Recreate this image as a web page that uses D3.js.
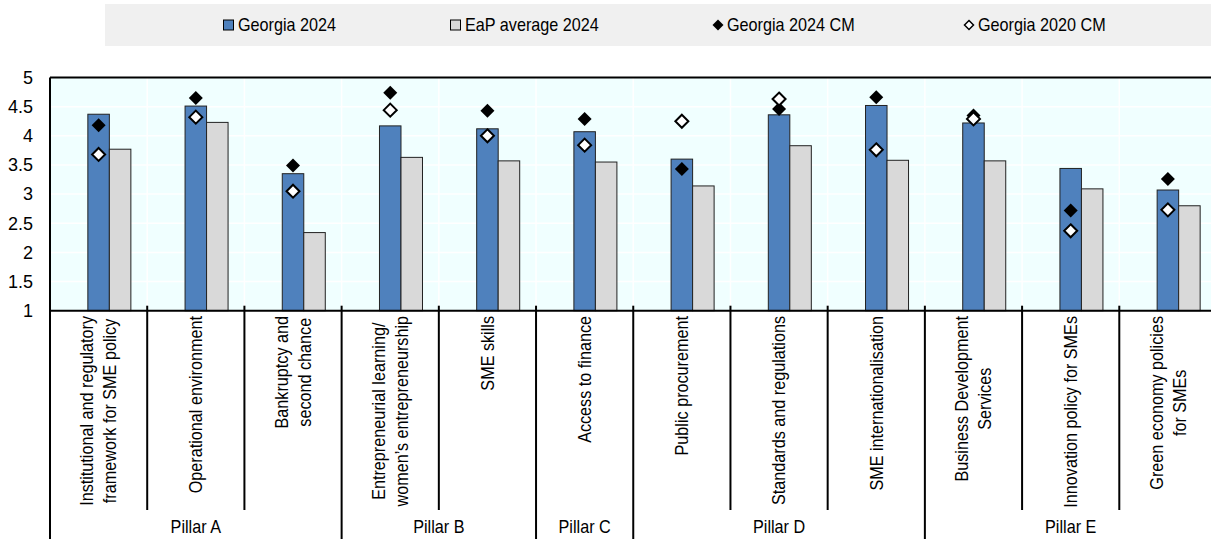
<!DOCTYPE html>
<html>
<head>
<meta charset="utf-8">
<script src="https://cdn.jsdelivr.net/npm/d3@7"></script>
<style>
  body { margin: 0; background: #fff; }
  svg { display: block; }
  text { font-family: "Liberation Sans", Arial, sans-serif; fill: #000; }
</style>
</head>
<body>
<script>
// data
let categories = [
  ['Institutional and regulatory', 'framework for SME policy'],
  ['Operational environment'],
  ['Bankruptcy and', 'second chance'],
  ['Entrepreneurial learning/', 'women\u2019s entrepreneurship'],
  ['SME skills'],
  ['Access to finance'],
  ['Public procurement'],
  ['Standards and regulations'],
  ['SME internationalisation'],
  ['Business Development', 'Services'],
  ['Innovation policy for SMEs'],
  ['Green economy policies', 'for SMEs']
];
let georgia2024   = [4.37, 4.51, 3.35, 4.17, 4.12, 4.07, 3.60, 4.36, 4.52, 4.22, 3.44, 3.07];
let eapAverage    = [3.77, 4.23, 2.34, 3.63, 3.57, 3.55, 3.14, 3.83, 3.58, 3.57, 3.09, 2.80];
let georgia2024CM = [4.18, 4.65, 3.49, 4.74, 4.43, 4.29, 3.43, 4.46, 4.66, 4.35, 2.72, 3.26];
let georgia2020CM = [3.68, 4.32, 3.05, 4.44, 4.00, 3.84, 4.25, 4.63, 3.76, 4.29, 2.37, 2.73];
let pillars = [
  {name: 'Pillar A', from: 0, to: 2},
  {name: 'Pillar B', from: 3, to: 4},
  {name: 'Pillar C', from: 5, to: 5},
  {name: 'Pillar D', from: 6, to: 8},
  {name: 'Pillar E', from: 9, to: 11}
];
let yTicks = [1, 1.5, 2, 2.5, 3, 3.5, 4, 4.5, 5];
let legendItems = ['Georgia 2024', 'EaP average 2024', 'Georgia 2024 CM', 'Georgia 2020 CM'];

let width = 1211, height = 539;
let blue = '#4f81bd', grey = '#d9d9d9';
let narrow = 0.9; // fake "Arial Narrow" by squeezing along the text

let svg = d3.select('body').append('svg')
    .attr('width', width)
    .attr('height', height);

// scales
let idx = categories.map((c, i) => i);
let x = d3.scaleBand().domain(idx).range([50, 1216.5]).padding(0);
let slot = d3.scaleBand().domain(['gap', 'g', 'e']).range([0, x.bandwidth()])
    .paddingInner(0).paddingOuter(0.76);
let y = d3.scaleLinear().domain([1, 5]).range([310.7, 77.5]);

// plot background + grid
svg.append('rect')
    .attr('x', x.range()[0]).attr('y', y(5))
    .attr('width', x.range()[1] - x.range()[0]).attr('height', y(1) - y(5))
    .attr('fill', '#f0ffff');

svg.append('g').selectAll('line.hgrid')
    .data(yTicks.slice(1, -1))
    .enter().append('line')
    .attr('x1', x.range()[0]).attr('x2', x.range()[1])
    .attr('y1', d => y(d)).attr('y2', d => y(d))
    .attr('stroke', '#fff').attr('stroke-width', 1.5);

svg.append('g').selectAll('line.vgrid')
    .data(idx.slice(1))
    .enter().append('line')
    .attr('x1', d => x(d)).attr('x2', d => x(d))
    .attr('y1', y(5)).attr('y2', y(1))
    .attr('stroke', '#fff').attr('stroke-width', 1.5);

// bars
let groups = svg.append('g').selectAll('g.cat')
    .data(idx)
    .enter().append('g')
    .attr('transform', d => `translate(${x(d)},0)`);

groups.append('rect')
    .attr('x', slot('g')).attr('width', slot.bandwidth())
    .attr('y', d => y(georgia2024[d])).attr('height', d => y(1) - y(georgia2024[d]))
    .attr('fill', blue).attr('stroke', '#222').attr('stroke-width', 1);

groups.append('rect')
    .attr('x', slot('e')).attr('width', slot.bandwidth())
    .attr('y', d => y(eapAverage[d])).attr('height', d => y(1) - y(eapAverage[d]))
    .attr('fill', grey).attr('stroke', '#222').attr('stroke-width', 1);

// diamonds
let diamond = s => `M0,${-s}L${s},0L0,${s}L${-s},0Z`;

groups.append('path')
    .attr('d', diamond(7))
    .attr('transform', d => `translate(${x.bandwidth() / 2},${y(georgia2024CM[d])})`)
    .attr('fill', '#000');

groups.append('path')
    .attr('d', diamond(6.5))
    .attr('transform', d => `translate(${x.bandwidth() / 2},${y(georgia2020CM[d])})`)
    .attr('fill', '#fff').attr('stroke', '#000').attr('stroke-width', 2);

// axes frame
svg.append('line')
    .attr('x1', x.range()[0]).attr('x2', width)
    .attr('y1', y(5)).attr('y2', y(5))
    .attr('stroke', '#000').attr('stroke-width', 2);

svg.append('line')
    .attr('x1', x.range()[0]).attr('x2', width)
    .attr('y1', y(1)).attr('y2', y(1))
    .attr('stroke', '#000').attr('stroke-width', 2);

svg.append('line')
    .attr('x1', x.range()[0]).attr('x2', x.range()[0])
    .attr('y1', y(5)).attr('y2', height)
    .attr('stroke', '#000').attr('stroke-width', 2);

// y axis labels
let yAxis = svg.append('g')
    .attr('transform', `translate(${x.range()[0]},0)`)
    .call(d3.axisLeft(y).tickValues(yTicks).tickSize(0).tickPadding(17).tickFormat(d => String(d)));
yAxis.select('.domain').remove();
yAxis.selectAll('text')
    .attr('font-size', '18px')
    .style('font-family', null);

// category separators (short inside pillar, long at pillar edges)
let pillarEdges = pillars.map(p => p.from);
svg.append('g').selectAll('line.sep')
    .data(idx.slice(1))
    .enter().append('line')
    .attr('x1', d => x(d)).attr('x2', d => x(d))
    .attr('y1', y(1) - 5)
    .attr('y2', d => pillarEdges.includes(d) ? height : 510)
    .attr('stroke', '#000').attr('stroke-width', 2);

// rotated category labels
let labelTop = 316, lineH = 23;
let labels = svg.append('g').selectAll('g.lab')
    .data(idx)
    .enter().append('g')
    .attr('transform', d => `translate(${x(d) + x.bandwidth() / 2},${labelTop}) rotate(-90) scale(${narrow},1)`);

labels.each(function(d) {
  let g = d3.select(this);
  let lines = categories[d];
  let texts = g.selectAll('text')
      .data(lines)
      .enter().append('text')
      .attr('font-size', '18px')
      .attr('text-anchor', 'middle')
      .attr('dy', '0.35em')
      .attr('y', (l, i) => (i - (lines.length - 1) / 2) * lineH)
      .text(l => l);
  let maxLen = d3.max(texts.nodes(), n => n.getComputedTextLength());
  texts.attr('x', -maxLen / 2);
});

// pillar labels
svg.append('g').selectAll('text.pillar')
    .data(pillars)
    .enter().append('text')
    .attr('transform', p => `translate(${(x(p.from) + x(p.to) + x.bandwidth()) / 2},527) scale(${narrow},1)`)
    .attr('dy', '0.35em')
    .attr('text-anchor', 'middle')
    .attr('font-size', '18px')
    .text(p => p.name);

// legend
let legend = svg.append('g');
legend.append('rect')
    .attr('x', 105).attr('y', 4)
    .attr('width', width - 105).attr('height', 42)
    .attr('fill', '#f0f0f0');

let legendX = [223, 450, 712, 963];
let legendG = legend.selectAll('g.item')
    .data(legendItems)
    .enter().append('g')
    .attr('transform', (d, i) => `translate(${legendX[i]},25)`);

legendG.filter((d, i) => i < 2).append('rect')
    .attr('x', 0.5).attr('y', -5).attr('width', 10).attr('height', 10)
    .attr('fill', (d, i) => i === 0 ? blue : grey)
    .attr('stroke', '#000').attr('stroke-width', 1);

legendG.filter((d, i) => i >= 2).append('path')
    .attr('d', (d, i) => diamond(i === 0 ? 5.5 : 4.5))
    .attr('transform', 'translate(6,0)')
    .attr('fill', (d, i) => i === 0 ? '#000' : '#fff')
    .attr('stroke', '#000').attr('stroke-width', (d, i) => i === 0 ? 0 : 1.5);

legendG.append('text')
    .attr('transform', `translate(15,0) scale(${narrow},1)`)
    .attr('dy', '0.35em')
    .attr('font-size', '18px')
    .text(d => d);
</script>
</body>
</html>
